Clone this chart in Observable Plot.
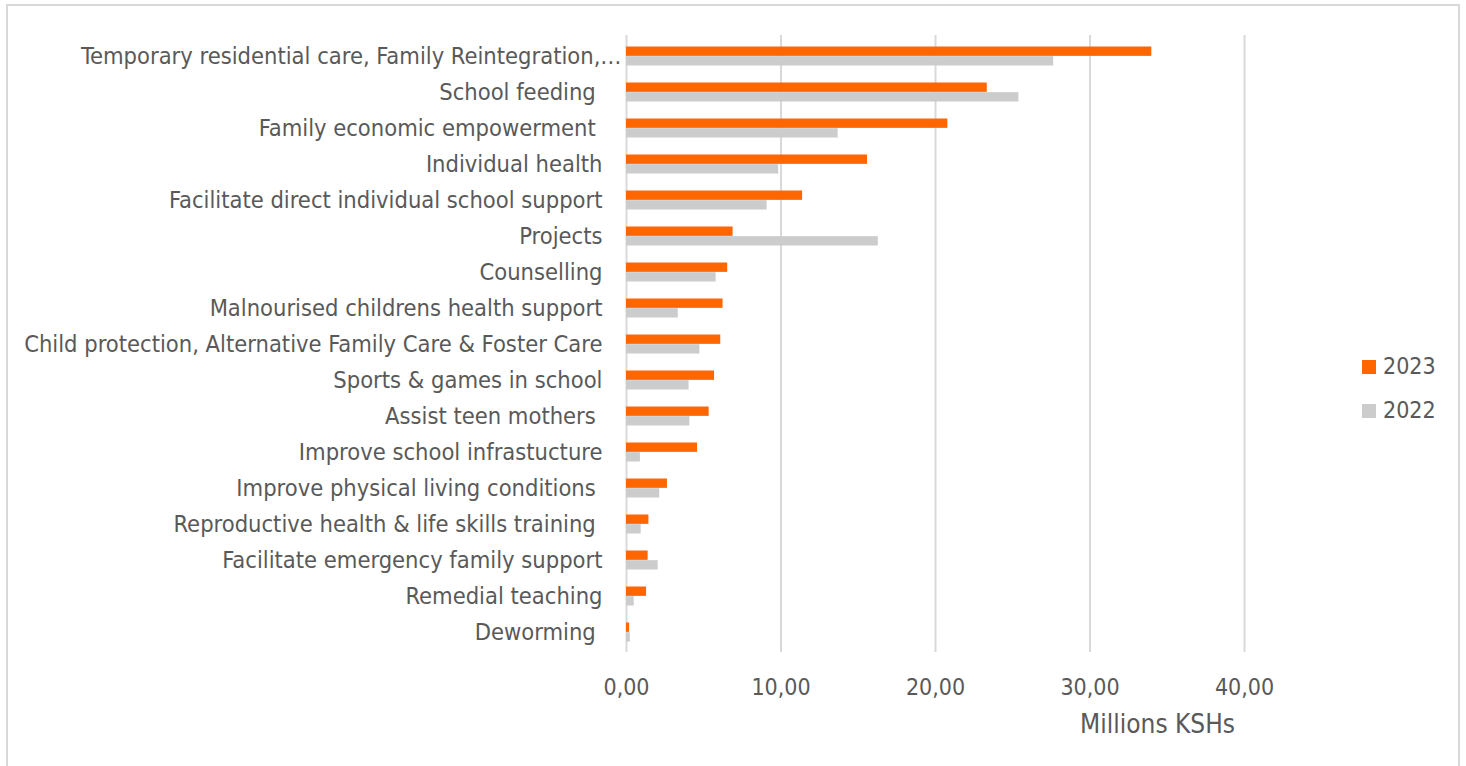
<!DOCTYPE html>
<html><head><meta charset="utf-8">
<script src="https://cdn.jsdelivr.net/npm/d3@7"></script>
<script src="https://cdn.jsdelivr.net/npm/@observablehq/plot@0.6"></script>
<style>
html,body{margin:0;padding:0;background:#fff;overflow:hidden;}
#wrap{position:relative;width:1466px;height:766px;font-family:"DejaVu Sans Condensed","DejaVu Sans",sans-serif;font-stretch:condensed;color:#595959;}
#frame{position:absolute;left:6px;top:4px;width:1454px;height:800px;border:2px solid #d9d9d9;box-sizing:border-box;}
#chart{position:absolute;left:0;top:0;}
#chart svg text{font-stretch:condensed;}
.leg{position:absolute;left:1362px;font-size:23px;line-height:23px;display:flex;align-items:center;}
.leg span.sw{display:inline-block;width:14px;height:14px;margin-right:7px;}
#xtitle{position:absolute;right:231px;top:711px;font-size:26px;line-height:26px;white-space:nowrap;}
</style>
</head><body>
<div id="wrap"><div id="frame"></div><div id="chart"></div><div id="xtitle"></div></div>
<script>
const categories = [
  "Temporary residential care, Family Reintegration,…",
  "School feeding ",
  "Family economic empowerment ",
  "Individual health",
  "Facilitate direct individual school support",
  "Projects",
  "Counselling",
  "Malnourised childrens health support",
  "Child protection, Alternative Family Care & Foster Care",
  "Sports & games in school",
  "Assist teen mothers ",
  "Improve school infrastucture",
  "Improve physical living conditions ",
  "Reproductive health & life skills training ",
  "Facilitate emergency family support",
  "Remedial teaching",
  "Deworming "
];
const values2023 = [34.0, 23.35, 20.8, 15.6, 11.4, 6.9, 6.55, 6.25, 6.1, 5.7, 5.35, 4.6, 2.65, 1.45, 1.4, 1.3, 0.2];
const values2022 = [27.65, 25.4, 13.7, 9.85, 9.1, 16.3, 5.8, 3.35, 4.75, 4.05, 4.1, 0.9, 2.15, 0.95, 2.05, 0.5, 0.25];
const years = ["2023", "2022"];
const colors = ["#ff6600", "#cccccc"];
const xTicks = [0, 10, 20, 30, 40];
const xTitle = "Millions KSHs";

const rows = categories.map((c, i) => ({category: c, v2023: values2023[i], v2022: values2022[i]}));
const fmt = d => d.toFixed(2).replace(".", ",");
const lab = d => d.replace(/ $/, "\u00a0");
const font = '"DejaVu Sans Condensed","DejaVu Sans",sans-serif';

const chart = Plot.plot({
  width: 1466, height: 766,
  marginLeft: 626, marginRight: 222, marginTop: 35, marginBottom: 114,
  x: {domain: [0, 40]},
  y: {domain: categories, padding: 0},
  style: {fontFamily: font, fontSize: "23px", color: "#595959", background: "transparent", overflow: "visible"},
  marks: [
    Plot.gridX(xTicks, {stroke: "#d9d9d9", strokeOpacity: 1, strokeWidth: 2}),
    Plot.barX(rows, {x: "v2023", y: "category", fill: colors[0], insetTop: 8.5, insetBottom: 18.15}),
    Plot.barX(rows, {x: "v2022", y: "category", fill: colors[1], insetTop: 18.15, insetBottom: 8.5}),
    Plot.axisX(xTicks, {tickFormat: fmt, tickSize: 0, tickPadding: 26, label: null}),
    Plot.axisY([categories[0]], {tickSize: 0, tickPadding: 5, tickFormat: lab, label: null, fontSize: 23.5}),
    Plot.axisY(categories.slice(1), {tickSize: 0, tickPadding: 24, tickFormat: lab, label: null, fontSize: 23.5})
  ]
});
document.getElementById("chart").appendChild(chart);
document.getElementById("xtitle").textContent = xTitle;

const legendTops = [355, 399];
years.forEach((yr, i) => {
  const d = document.createElement("div");
  d.className = "leg";
  d.style.top = legendTops[i] + "px";
  const sw = document.createElement("span");
  sw.className = "sw";
  sw.style.background = colors[i];
  d.appendChild(sw);
  d.appendChild(document.createTextNode(yr));
  document.getElementById("wrap").appendChild(d);
});
</script>
</body></html>
